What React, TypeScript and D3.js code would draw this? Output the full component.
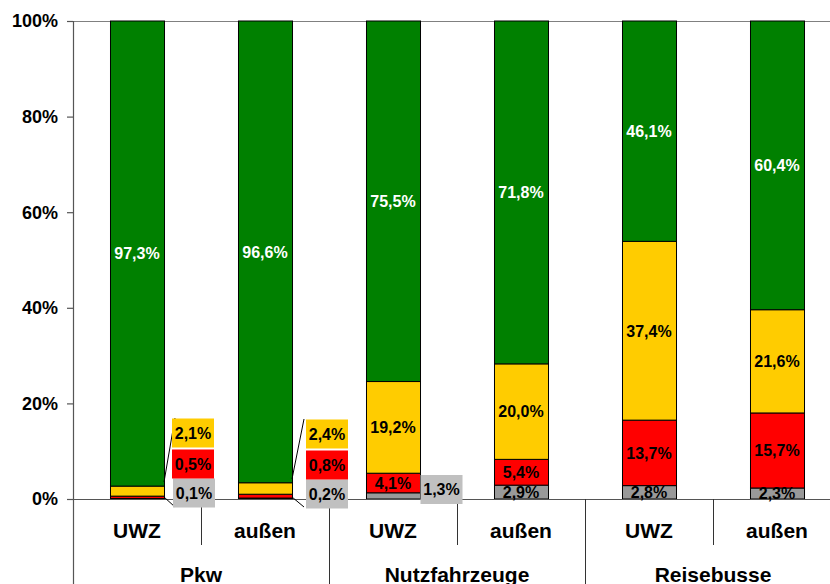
import React from "react";
import * as d3 from "d3";

const groups = ["Pkw", "Nutzfahrzeuge", "Reisebusse"];
const subCategories = ["UWZ", "außen"];
const barKeys = ["Pkw-UWZ", "Pkw-außen", "Nfz-UWZ", "Nfz-außen", "Bus-UWZ", "Bus-außen"];
const grayValues = [0.1, 0.2, 1.3, 2.9, 2.8, 2.3];
const redValues = [0.5, 0.8, 4.1, 5.4, 13.7, 15.7];
const yellowValues = [2.1, 2.4, 19.2, 20.0, 37.4, 21.6];
const greenValues = [97.3, 96.6, 75.5, 71.8, 46.1, 60.4];
const yTicks = [0, 20, 40, 60, 80, 100];

const FONT = "'Liberation Sans', Arial, Helvetica, sans-serif";
const W = 830;
const H = 584;
const left = 73;
const plotTop = 21;
const plotBottom = 499;
const catWidth = 128;

const seriesDefs = [
  { name: "gray", values: grayValues, fill: "#999999", box: "#C0C0C0", text: "#000" },
  { name: "red", values: redValues, fill: "#FF0000", box: "#FF0000", text: "#000" },
  { name: "yellow", values: yellowValues, fill: "#FFCC00", box: "#FFCC00", text: "#000" },
  { name: "green", values: greenValues, fill: "#008000", box: "#008000", text: "#fff" },
];

const fmt = (v: number) => v.toFixed(1).replace(".", ",") + "%";

// external label placement (layout only): bar index -> series -> box center
const external: Record<number, Record<string, { cx: number; cy: number; lead?: [number, number, number, number] }>> = {
  0: {
    yellow: { cx: 193, cy: 433, lead: [164, 482, 175, 418] },
    red: { cx: 193, cy: 464 },
    gray: { cx: 194, cy: 493, lead: [164, 497, 175, 507] },
  },
  1: {
    yellow: { cx: 327, cy: 434, lead: [292, 479, 304, 419] },
    red: { cx: 327, cy: 465 },
    gray: { cx: 327, cy: 494, lead: [292, 497, 304, 507] },
  },
  2: {
    gray: { cx: 441.5, cy: 489.5 },
  },
};

export default function App() {
  const x = d3
    .scaleBand<string>()
    .domain(barKeys)
    .range([left, left + catWidth * barKeys.length])
    .paddingInner(0.578)
    .paddingOuter(0.289);
  const y = d3.scaleLinear().domain([0, 100]).range([plotBottom, plotTop]);

  const totals = barKeys.map((_, i) => seriesDefs.reduce((s, d) => s + d.values[i], 0));

  const segs: any[] = [];
  barKeys.forEach((k, i) => {
    let acc = 0;
    seriesDefs.forEach((s) => {
      const v = (s.values[i] / totals[i]) * 100;
      segs.push({ key: k, i, s, v: s.values[i], y0: acc, y1: acc + v });
      acc += v;
    });
  });

  const bw = x.bandwidth();

  return (
    <svg width={W} height={H} style={{ position: "absolute", left: 0, top: 0, background: "#fff" }}>
      <rect x={0} y={0} width={W} height={H} fill="#fff" />
      {/* top border */}
      <line x1={left} x2={W} y1={plotTop + 0.5} y2={plotTop + 0.5} stroke="#808080" strokeWidth={1} />
      {/* bars */}
      {segs.map((d, j) => (
        <rect
          key={j}
          x={(x(d.key) as number) + 0.5}
          y={y(d.y1)}
          width={bw}
          height={Math.max(0, y(d.y0) - y(d.y1))}
          fill={d.s.fill}
          stroke="#000"
          strokeWidth={1}
        />
      ))}
      {/* axis */}
      <line x1={left + 0.5} x2={left + 0.5} y1={plotTop} y2={H} stroke="#555" strokeWidth={1.2} />
      <line x1={67} x2={W} y1={plotBottom + 0.5} y2={plotBottom + 0.5} stroke="#555" strokeWidth={1.2} />
      {yTicks.map((t) => (
        <g key={t}>
          <line x1={67} x2={left} y1={y(t) + 0.5} y2={y(t) + 0.5} stroke="#555" strokeWidth={1.2} />
          <text
            x={58}
            y={y(t)}
            dy="0.35em"
            textAnchor="end"
            fontFamily={FONT}
            fontWeight="bold"
            fontSize={18}
            fill="#000"
          >
            {t}%
          </text>
        </g>
      ))}
      {/* separators */}
      {barKeys.map((k, i) => {
        const xs = left + catWidth * (i + 1) + 0.5;
        const isGroup = i % 2 === 1;
        return (
          <line
            key={"sep" + k}
            x1={xs}
            x2={xs}
            y1={plotBottom}
            y2={isGroup ? H : 545}
            stroke="#333"
            strokeWidth={1}
          />
        );
      })}
      {/* sub-category labels */}
      {barKeys.map((k, i) => (
        <text
          key={"sub" + k}
          x={(x(k) as number) + bw / 2}
          y={538}
          textAnchor="middle"
          fontFamily={FONT}
          fontWeight="bold"
          fontSize={21}
          fill="#000"
        >
          {subCategories[i % 2]}
        </text>
      ))}
      {groups.map((g, gi) => (
        <text
          key={g}
          x={left + catWidth * (2 * gi + 1)}
          y={582}
          textAnchor="middle"
          fontFamily={FONT}
          fontWeight="bold"
          fontSize={21}
          fill="#000"
        >
          {g}
        </text>
      ))}
      {/* value labels */}
      {segs.map((d, j) => {
        const ext = external[d.i] && external[d.i][d.s.name];
        if (ext) {
          const bwid = 42;
          const bh = 29;
          return (
            <g key={"l" + j}>
              {ext.lead && (
                <line
                  x1={ext.lead[0]}
                  y1={ext.lead[1]}
                  x2={ext.lead[2]}
                  y2={ext.lead[3]}
                  stroke="#000"
                  strokeWidth={1}
                />
              )}
              <rect x={ext.cx - bwid / 2} y={ext.cy - bh / 2} width={bwid} height={bh} fill={d.s.box} />
              <text
                x={ext.cx}
                y={ext.cy}
                dy="0.36em"
                textAnchor="middle"
                fontFamily={FONT}
                fontWeight="bold"
                fontSize={16}
                fill={d.s.text}
              >
                {fmt(d.v)}
              </text>
            </g>
          );
        }
        return (
          <text
            key={"l" + j}
            x={(x(d.key) as number) + bw / 2}
            y={(y(d.y0) + y(d.y1)) / 2}
            dy="0.36em"
            textAnchor="middle"
            fontFamily={FONT}
            fontWeight="bold"
            fontSize={16}
            fill={d.s.text}
          >
            {fmt(d.v)}
          </text>
        );
      })}
    </svg>
  );
}
